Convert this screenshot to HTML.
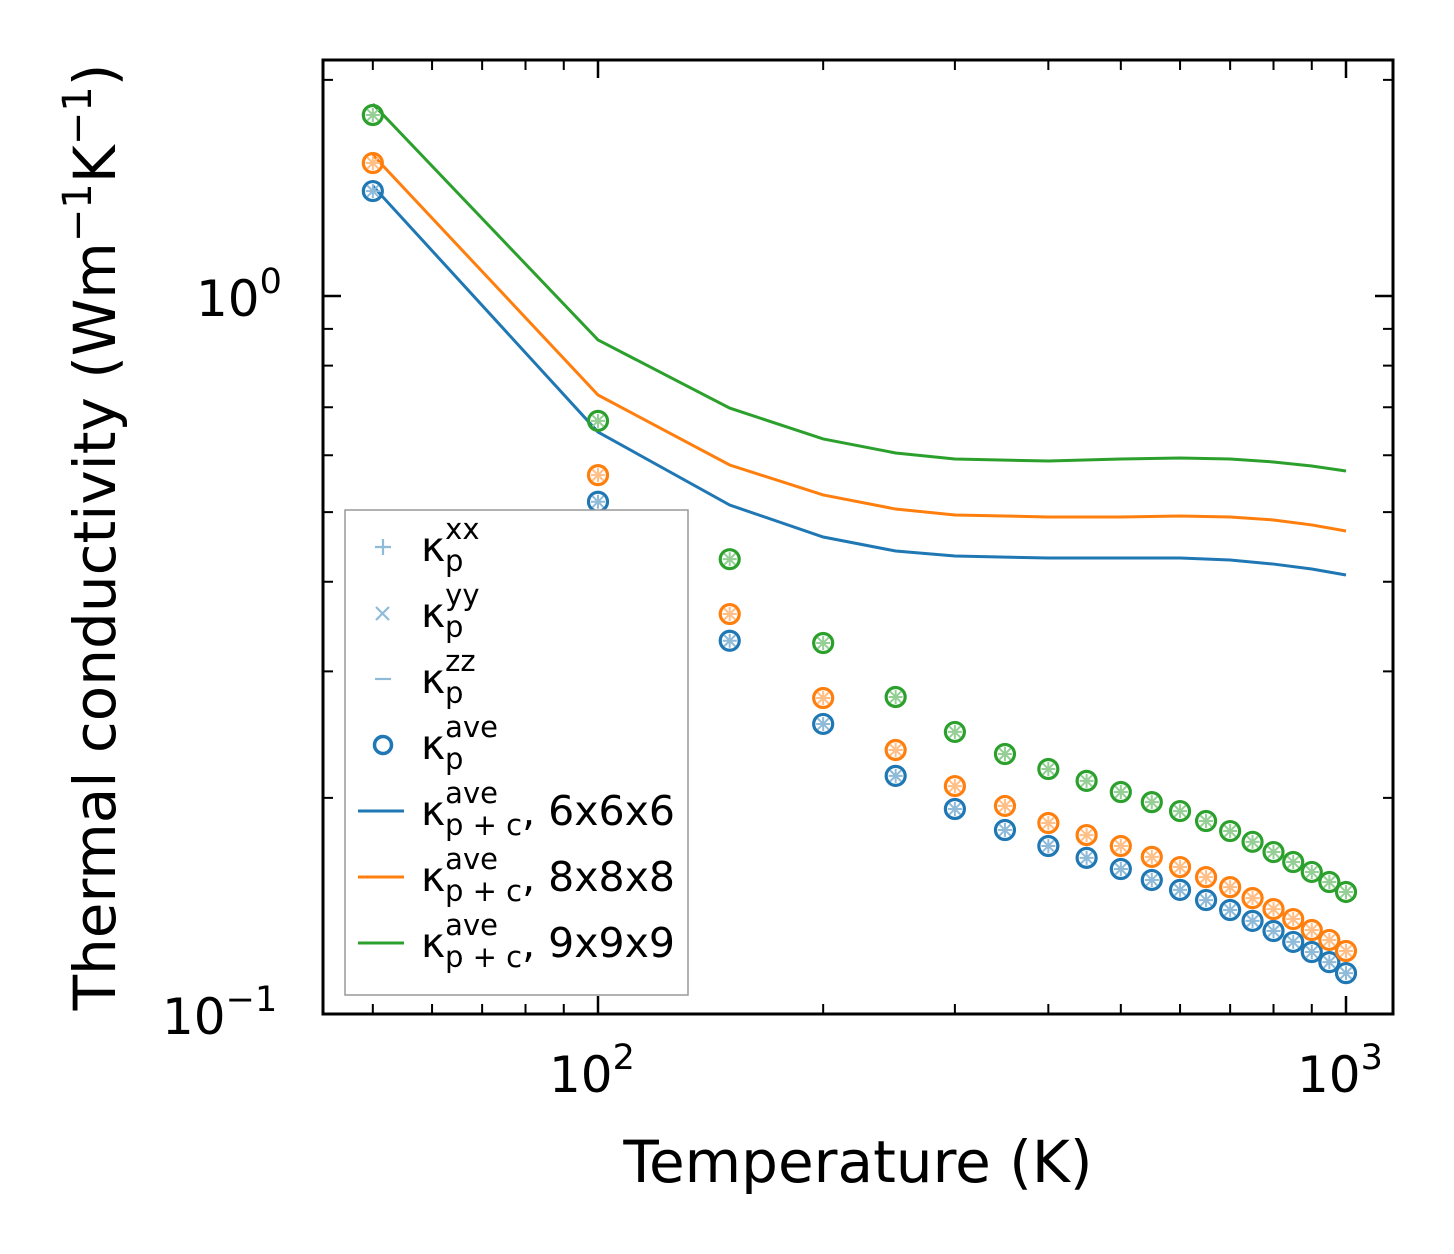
<!DOCTYPE html>
<html><head><meta charset="utf-8"><style>
html,body{margin:0;padding:0;background:#fff;}
svg{display:block;font-family:"DejaVu Sans","Liberation Sans",sans-serif;}
</style></head><body>
<svg id="chart" width="1454" height="1254" viewBox="0 0 1454 1254" xmlns="http://www.w3.org/2000/svg">
<rect width="1454" height="1254" fill="#fff"/>
<g id="marks"></g>
<g id="axes"></g>
<g id="legend"></g>
</svg>
<script>
const temps = [50,100,150,200,250,300,350,400,450,500,550,600,650,700,750,800,850,900,950,1000];
const kp6 = [1.400,0.517,0.331,0.2535,0.2146,0.193,0.1804,0.1714,0.165,0.1592,0.1537,0.1489,0.1441,0.1396,0.1348,0.1305,0.126,0.122,0.1181,0.114];
const kp8 = [1.532,0.563,0.3606,0.2755,0.2332,0.2077,0.1949,0.1845,0.1775,0.1714,0.1655,0.1602,0.1551,0.1502,0.145,0.14,0.1356,0.1309,0.1268,0.1224];
const kp9 = [1.787,0.67,0.430,0.3286,0.2764,0.2471,0.2302,0.2194,0.2112,0.2038,0.1973,0.1917,0.1857,0.1798,0.1737,0.1681,0.1628,0.1577,0.1527,0.1479];
const lineTemps = [50,100,150,200,250,300,400,500,600,700,800,900,1000];
const kpc6 = [1.423,0.6465,0.5115,0.4617,0.4414,0.4344,0.4316,0.4316,0.4316,0.4288,0.4233,0.4166,0.4087];
const kpc8 = [1.572,0.728,0.5816,0.5283,0.505,0.4955,0.4923,0.4923,0.4939,0.4923,0.4876,0.4799,0.4707];
const kpc9 = [1.851,0.8685,0.698,0.6323,0.6045,0.5929,0.589,0.5929,0.5948,0.5929,0.5873,0.5798,0.5705];
const xMajor = [100,1000];
const xMajorLabels = ["2","3"];
const xMinor = [50,60,70,80,90,200,300,400,500,600,700,800,900];
const yMajor = [0.1,1];
const yMajorLabels = ["\u22121","0"];
const yMinor = [0.2,0.3,0.4,0.5,0.6,0.7,0.8,0.9,2];

const NS="http://www.w3.org/2000/svg";
const L=323,R=1393,T=60,B=1014;
const xs = v => 598 + 748*(Math.log10(v)-2);
const ys = v => 296 - 718*Math.log10(v);
function mk(tag, attrs, parent){const e=document.createElementNS(NS,tag);for(const k in attrs)e.setAttribute(k,attrs[k]);parent.appendChild(e);return e;}
const marks=document.getElementById('marks'), axes=document.getElementById('axes'), leg=document.getElementById('legend');

const series=[[kpc6,kp6,'#1f77b4','#8fbbd9','6x6x6'],[kpc8,kp8,'#ff7f0e','#ffbf86','8x8x8'],[kpc9,kp9,'#2ca02c','#95cf95','9x9x9']];
series.forEach((s,i)=>{
  const pl=mk('polyline',{points:lineTemps.map((t,j)=>xs(t)+','+ys(s[0][j])).join(' '),fill:'none',stroke:s[2],'stroke-width':3},marks);
  
  
  temps.forEach((t,j)=>{
    const cx=xs(t),cy=ys(s[1][j]);
    const g=mk('g',{},marks);
    
    
    mk('path',{d:`M${cx-7},${cy}h14M${cx},${cy-7}v14M${cx-5.5},${cy-5.5}l11,11M${cx-5.5},${cy+5.5}l11,-11`,stroke:s[3],'stroke-width':2},g);
    mk('circle',{cx:cx,cy:cy,r:9.5,fill:'none',stroke:s[2],'stroke-width':3.2},g);
  });
});

const fr=mk('rect',{x:L,y:T,width:R-L,height:B-T,fill:'none',stroke:'#000','stroke-width':3},axes);


xMajor.forEach((v,i)=>{const x=xs(v);
  mk('path',{d:`M${x},${B}v-18M${x},${T}v18`,stroke:'#000','stroke-width':2.5},axes);
  const t=mk('text',{x:x-49,y:1092,'font-size':50},axes);
  
  
  t.innerHTML='10<tspan dy="-23" font-size="35">'+xMajorLabels[i]+'</tspan>';
});
xMinor.forEach(v=>{const x=xs(v);mk('path',{d:`M${x},${B}v-10M${x},${T}v10`,stroke:'#000','stroke-width':2},axes);});
yMajor.forEach((v,i)=>{const y=ys(v);
  mk('path',{d:`M${L},${y}h18M${R},${y}h-18`,stroke:'#000','stroke-width':2.5},axes);
  const t=mk('text',{x:i==0?162:196,y:y+20,'font-size':50},axes);
  
  
  t.innerHTML='10<tspan dy="-23" font-size="35">'+yMajorLabels[i]+'</tspan>';
});
yMinor.forEach(v=>{const y=ys(v);mk('path',{d:`M${L},${y}h10M${R},${y}h-10`,stroke:'#000','stroke-width':2},axes);});
const xl=mk('text',{x:858,y:1182,'font-size':58,'text-anchor':'middle'},axes);


xl.textContent='Temperature (K)';
const yl=mk('text',{transform:'translate(115,537) rotate(-90)','font-size':58,'text-anchor':'middle'},axes);


yl.innerHTML='Thermal conductivity (Wm<tspan dy="-24" font-size="40">\u22121</tspan><tspan dy="24">K</tspan><tspan dy="-24" font-size="40">\u22121</tspan><tspan dy="24">)</tspan>';

const lb=mk('rect',{x:345,y:510,width:343,height:485,fill:'#fff',stroke:'#999','stroke-width':1.5},leg);


const entries=[['xx','p','',null],['yy','p','',null],['zz','p','',null],['ave','p','',null],['ave','p + c',', 6x6x6','#1f77b4'],['ave','p + c',', 8x8x8','#ff7f0e'],['ave','p + c',', 9x9x9','#2ca02c']];
entries.forEach((e,i)=>{
  const cy=547+i*66;
  const g=mk('g',{},leg);
  
  
  const c='#8fbbd9';
  if(i==0) mk('path',{d:`M375,${cy}h16M383,${cy-8}v16`,stroke:c,'stroke-width':2.2},g);
  if(i==1) mk('path',{d:`M376,${cy-6}l13,13M376,${cy+7}l13,-13`,stroke:c,'stroke-width':2.2},g);
  if(i==2) mk('path',{d:`M375,${cy}h16`,stroke:c,'stroke-width':2.2},g);
  if(i==3) mk('circle',{cx:383,cy:cy,r:8.5,fill:'none',stroke:'#1f77b4','stroke-width':3.5},g);
  if(i>3) mk('path',{d:`M358,${cy}h46`,stroke:e[3],'stroke-width':3},g);
  const t=mk('text',{x:421,y:cy+14,'font-size':41},g);
  t.innerHTML='\u03ba<tspan font-size="29" dy="-22">'+e[0]+'</tspan><tspan font-size="29" x="445" dy="32">'+e[1]+'</tspan><tspan dy="-10">'+e[2]+'</tspan>';
});
</script>
</body></html>
